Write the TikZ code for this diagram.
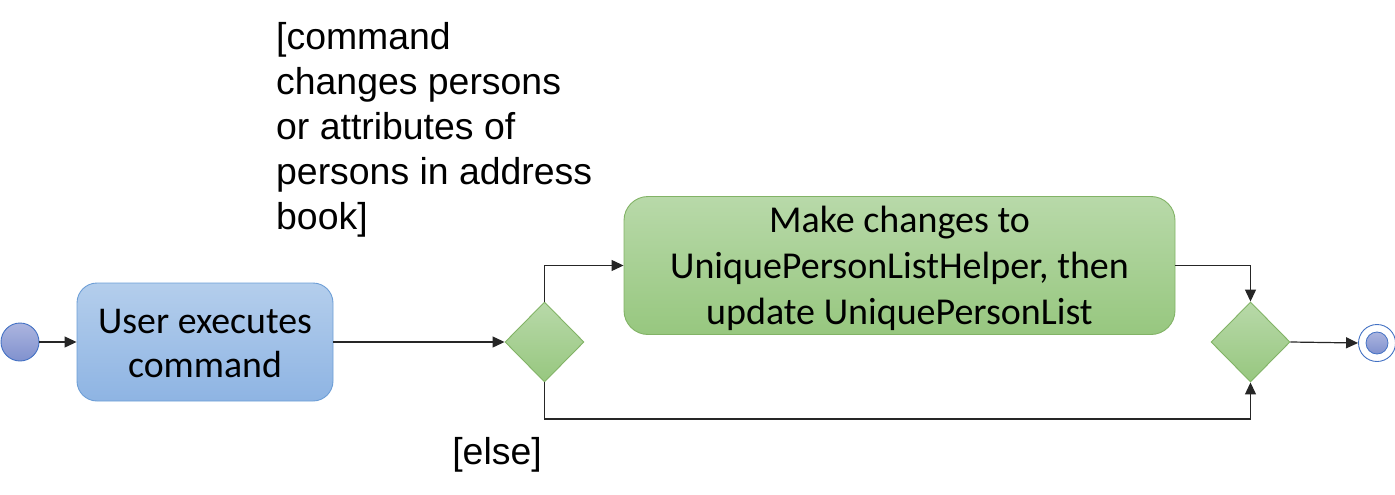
\documentclass[tikz,border=0pt]{standalone}
\usepackage{fontspec}
\setmainfont{Liberation Sans}
\newfontfamily\boxfont{Carlito}
\usetikzlibrary{shapes.geometric,arrows.meta}
\definecolor{bluetop}{RGB}{180,206,236}
\definecolor{bluebot}{RGB}{142,180,227}
\definecolor{blueedge}{RGB}{109,158,214}
\definecolor{greentop}{RGB}{184,217,169}
\definecolor{greenbot}{RGB}{151,199,127}
\definecolor{greenedge}{RGB}{130,179,102}
\definecolor{dottop}{RGB}{172,181,223}
\definecolor{dotbot}{RGB}{128,145,206}
\definecolor{dotedge}{RGB}{68,114,196}
\newcommand{\lowered}[2]{\raisebox{-#1}[\height][\depth]{#2}}
\tikzset{
  conn/.style={line width=1.2pt, draw=black!85},
  arr/.style={conn, -{Triangle[length=12pt,width=11pt]}},
  bluebox/.style={rounded corners=20pt, draw=blueedge, line width=0.9pt, top color=bluetop, bottom color=bluebot, minimum width=256pt, minimum height=118pt, inner sep=0pt, font=\boxfont\fontsize{37.8}{44}\selectfont},
  greenbox/.style={rounded corners=24pt, draw=greenedge, line width=0.9pt, top color=greentop, bottom color=greenbot, minimum width=551pt, minimum height=135pt, inner sep=0pt, font=\boxfont\fontsize{38}{46}\selectfont},
  decision/.style={diamond, aspect=1, draw=greenedge, line width=0.9pt, top color=greentop, bottom color=greenbot, minimum width=79pt, minimum height=80pt, inner sep=0pt},
  startdot/.style={circle, draw=dotedge, line width=0.9pt, top color=dottop, bottom color=dotbot, minimum size=38pt, inner sep=0pt},
  endring/.style={circle, draw=dotedge, line width=0.9pt, fill=white, minimum size=37pt, inner sep=0pt},
  enddot/.style={circle, draw=dotedge, line width=0.8pt, top color=dottop, bottom color=dotbot, minimum size=22pt, inner sep=0pt},
  guard/.style={inner sep=0pt, font=\fontsize{37.4}{45}\selectfont},
}
\begin{document}
\begin{tikzpicture}[x=1pt, y={(0pt,-1pt)}]
\useasboundingbox (0,0) rectangle (1395,495);
\node[startdot] (start) at (20,342) {};
\node[bluebox] (exec) at (205,342) {\lowered{5pt}{\begin{tabular}{@{}c@{}}User executes\\command\end{tabular}}};
\node[decision] (d1) at (544.5,342) {};
\node[greenbox] (act) at (899.5,265.5) {\lowered{4pt}{\begin{tabular}{@{}c@{}}Make changes to\\UniquePersonListHelper, then\\update UniquePersonList\end{tabular}}};
\node[decision] (d2) at (1250.5,342) {};
\node[endring] (end) at (1377,343) {};
\node[enddot] (enddot) at (end.center) {};
\coordinate (elsebend) at (544.5,419);
\node[guard, anchor=base west] (g1) at (276,50) {\begin{tabular}[t]{@{}l@{}}[command\\changes persons\\or attributes of\\persons in address\\book]\end{tabular}};
\node[guard, anchor=base] (g2) at (497,464) {[else]};
\draw[arr] (start) -- (exec);
\draw[arr] (exec) -- (d1);
\draw[arr] (d1.north) |- (act.west);
\draw[arr] (act.east) -| (d2.north);
\draw[arr] (d1.south) -- (elsebend) -| (d2.south);
\draw[arr] (d2.east) -- (end.west);
\end{tikzpicture}
\end{document}
